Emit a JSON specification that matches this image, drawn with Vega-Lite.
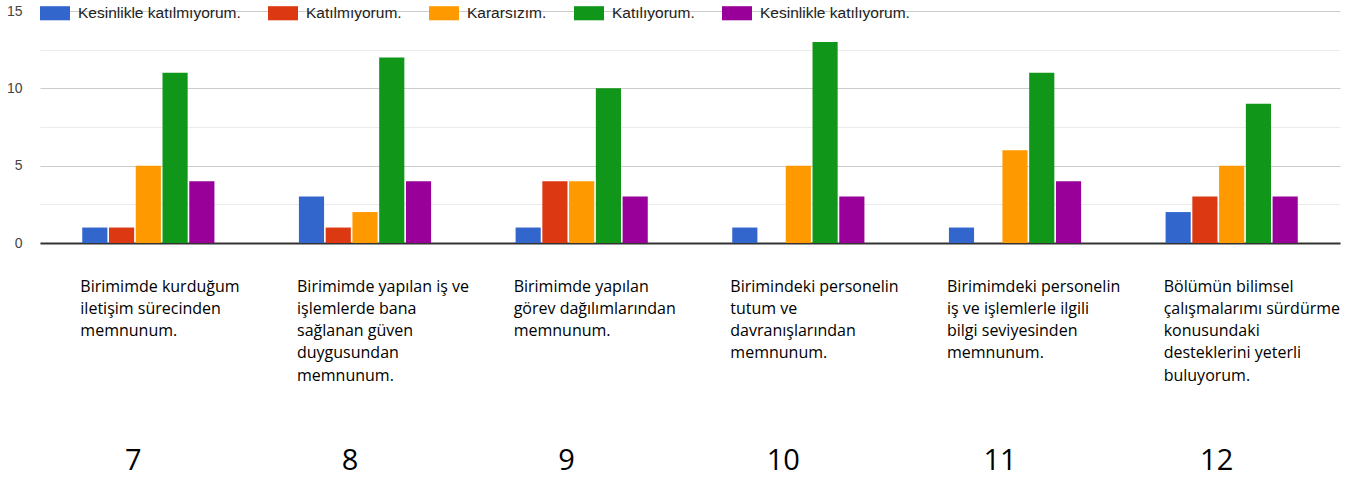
{
  "$schema": "https://vega.github.io/schema/vega-lite/v6.json",
  "width": 1300,
  "height": 232,
  "autosize": {"type": "none"},
  "padding": {"left": 40, "top": 11, "right": 10, "bottom": 236},
  "background": "white",
  "config": {"view": {"stroke": null}, "font": "Liberation Sans"},
  "data": {"values": [
    {"soru": "7|Birimimde kurduğum|iletişim sürecinden|memnunum.", "cevap": "Kesinlikle katılmıyorum.", "n": 1},
    {"soru": "7|Birimimde kurduğum|iletişim sürecinden|memnunum.", "cevap": "Katılmıyorum.", "n": 1},
    {"soru": "7|Birimimde kurduğum|iletişim sürecinden|memnunum.", "cevap": "Kararsızım.", "n": 5},
    {"soru": "7|Birimimde kurduğum|iletişim sürecinden|memnunum.", "cevap": "Katılıyorum.", "n": 11},
    {"soru": "7|Birimimde kurduğum|iletişim sürecinden|memnunum.", "cevap": "Kesinlikle katılıyorum.", "n": 4},
    {"soru": "8|Birimimde yapılan iş ve|işlemlerde bana|sağlanan güven|duygusundan|memnunum.", "cevap": "Kesinlikle katılmıyorum.", "n": 3},
    {"soru": "8|Birimimde yapılan iş ve|işlemlerde bana|sağlanan güven|duygusundan|memnunum.", "cevap": "Katılmıyorum.", "n": 1},
    {"soru": "8|Birimimde yapılan iş ve|işlemlerde bana|sağlanan güven|duygusundan|memnunum.", "cevap": "Kararsızım.", "n": 2},
    {"soru": "8|Birimimde yapılan iş ve|işlemlerde bana|sağlanan güven|duygusundan|memnunum.", "cevap": "Katılıyorum.", "n": 12},
    {"soru": "8|Birimimde yapılan iş ve|işlemlerde bana|sağlanan güven|duygusundan|memnunum.", "cevap": "Kesinlikle katılıyorum.", "n": 4},
    {"soru": "9|Birimimde yapılan|görev dağılımlarından|memnunum.", "cevap": "Kesinlikle katılmıyorum.", "n": 1},
    {"soru": "9|Birimimde yapılan|görev dağılımlarından|memnunum.", "cevap": "Katılmıyorum.", "n": 4},
    {"soru": "9|Birimimde yapılan|görev dağılımlarından|memnunum.", "cevap": "Kararsızım.", "n": 4},
    {"soru": "9|Birimimde yapılan|görev dağılımlarından|memnunum.", "cevap": "Katılıyorum.", "n": 10},
    {"soru": "9|Birimimde yapılan|görev dağılımlarından|memnunum.", "cevap": "Kesinlikle katılıyorum.", "n": 3},
    {"soru": "10|Birimindeki personelin|tutum ve|davranışlarından|memnunum.", "cevap": "Kesinlikle katılmıyorum.", "n": 1},
    {"soru": "10|Birimindeki personelin|tutum ve|davranışlarından|memnunum.", "cevap": "Katılmıyorum.", "n": 0},
    {"soru": "10|Birimindeki personelin|tutum ve|davranışlarından|memnunum.", "cevap": "Kararsızım.", "n": 5},
    {"soru": "10|Birimindeki personelin|tutum ve|davranışlarından|memnunum.", "cevap": "Katılıyorum.", "n": 13},
    {"soru": "10|Birimindeki personelin|tutum ve|davranışlarından|memnunum.", "cevap": "Kesinlikle katılıyorum.", "n": 3},
    {"soru": "11|Birimimdeki personelin|iş ve işlemlerle ilgili|bilgi seviyesinden|memnunum.", "cevap": "Kesinlikle katılmıyorum.", "n": 1},
    {"soru": "11|Birimimdeki personelin|iş ve işlemlerle ilgili|bilgi seviyesinden|memnunum.", "cevap": "Katılmıyorum.", "n": 0},
    {"soru": "11|Birimimdeki personelin|iş ve işlemlerle ilgili|bilgi seviyesinden|memnunum.", "cevap": "Kararsızım.", "n": 6},
    {"soru": "11|Birimimdeki personelin|iş ve işlemlerle ilgili|bilgi seviyesinden|memnunum.", "cevap": "Katılıyorum.", "n": 11},
    {"soru": "11|Birimimdeki personelin|iş ve işlemlerle ilgili|bilgi seviyesinden|memnunum.", "cevap": "Kesinlikle katılıyorum.", "n": 4},
    {"soru": "12|Bölümün bilimsel|çalışmalarımı sürdürme|konusundaki|desteklerini yeterli|buluyorum.", "cevap": "Kesinlikle katılmıyorum.", "n": 2},
    {"soru": "12|Bölümün bilimsel|çalışmalarımı sürdürme|konusundaki|desteklerini yeterli|buluyorum.", "cevap": "Katılmıyorum.", "n": 3},
    {"soru": "12|Bölümün bilimsel|çalışmalarımı sürdürme|konusundaki|desteklerini yeterli|buluyorum.", "cevap": "Kararsızım.", "n": 5},
    {"soru": "12|Bölümün bilimsel|çalışmalarımı sürdürme|konusundaki|desteklerini yeterli|buluyorum.", "cevap": "Katılıyorum.", "n": 9},
    {"soru": "12|Bölümün bilimsel|çalışmalarımı sürdürme|konusundaki|desteklerini yeterli|buluyorum.", "cevap": "Kesinlikle katılıyorum.", "n": 3}
  ]},
  "resolve": {"axis": {"x": "independent"}},
  "layer": [
    {
      "mark": {"type": "bar"},
      "encoding": {
        "x": {
          "field": "soru", "type": "nominal", "sort": null,
          "scale": {"paddingInner": 0.39, "paddingOuter": 0.195},
          "axis": {
            "title": null, "orient": "bottom",
            "labelExpr": "slice(split(datum.value, '|'), 1)",
            "labelAngle": 0, "labelAlign": "left", "labelBaseline": "top",
            "labelOffset": -68, "labelPadding": 35, "labelLineHeight": 22.3,
            "labelFontSize": 16, "labelColor": "#000", "labelFont": "Open Sans",
            "labelLimit": 0, "labelOverlap": false, "labelBound": false, "labelFlush": false,
            "ticks": false, "domain": true, "domainColor": "#333", "domainWidth": 2, "grid": false
          }
        },
        "xOffset": {"field": "cevap", "type": "nominal", "sort": null, "scale": {"paddingInner": 0.06, "paddingOuter": 0}},
        "y": {
          "field": "n", "type": "quantitative",
          "scale": {"domain": [0, 15], "nice": false},
          "axis": {
            "title": null,
            "values": [0, 2.5, 5, 7.5, 10, 12.5, 15],
            "labelExpr": "datum.value % 5 == 0 ? datum.label : ''",
            "labelFontSize": 14, "labelColor": "#444", "labelPadding": 18, "labelFont": "Liberation Sans",
            "ticks": false, "domain": false,
            "grid": true,
            "gridColor": {"condition": {"test": "datum.value % 5 == 0", "value": "#cccccc"}, "value": "#ebebeb"}
          }
        },
        "color": {
          "field": "cevap", "type": "nominal",
          "scale": {
            "domain": ["Kesinlikle katılmıyorum.", "Katılmıyorum.", "Kararsızım.", "Katılıyorum.", "Kesinlikle katılıyorum."],
            "range": ["#3366cc", "#dc3912", "#ff9900", "#109618", "#990099"]
          },
          "legend": {
            "title": null, "orient": "none", "legendX": 0, "legendY": -13, "direction": "horizontal",
            "symbolType": "M-1,-0.47H1V0.47H-1Z", "symbolSize": 900, "symbolStrokeWidth": 0,
            "labelFontSize": 15.5, "labelColor": "#222", "labelFont": "Liberation Sans",
            "labelOffset": 8, "columnPadding": 27, "padding": 0, "labelLimit": 0
          }
        }
      }
    },
    {
      "mark": {"type": "bar", "opacity": 0},
      "encoding": {
        "x": {
          "field": "soru", "type": "nominal", "sort": null,
          "axis": {
            "title": null, "orient": "bottom", "offset": 0,
            "labelExpr": "split(datum.value, '|')[0]",
            "labelAngle": 0, "labelAlign": "center", "labelBaseline": "top",
            "labelOffset": -15, "labelPadding": 203,
            "labelFontSize": 29, "labelColor": "#000", "labelFont": "Open Sans",
            "labelOverlap": false, "labelBound": false, "labelFlush": false,
            "ticks": false, "domain": false, "grid": false
          }
        }
      }
    }
  ]
}
